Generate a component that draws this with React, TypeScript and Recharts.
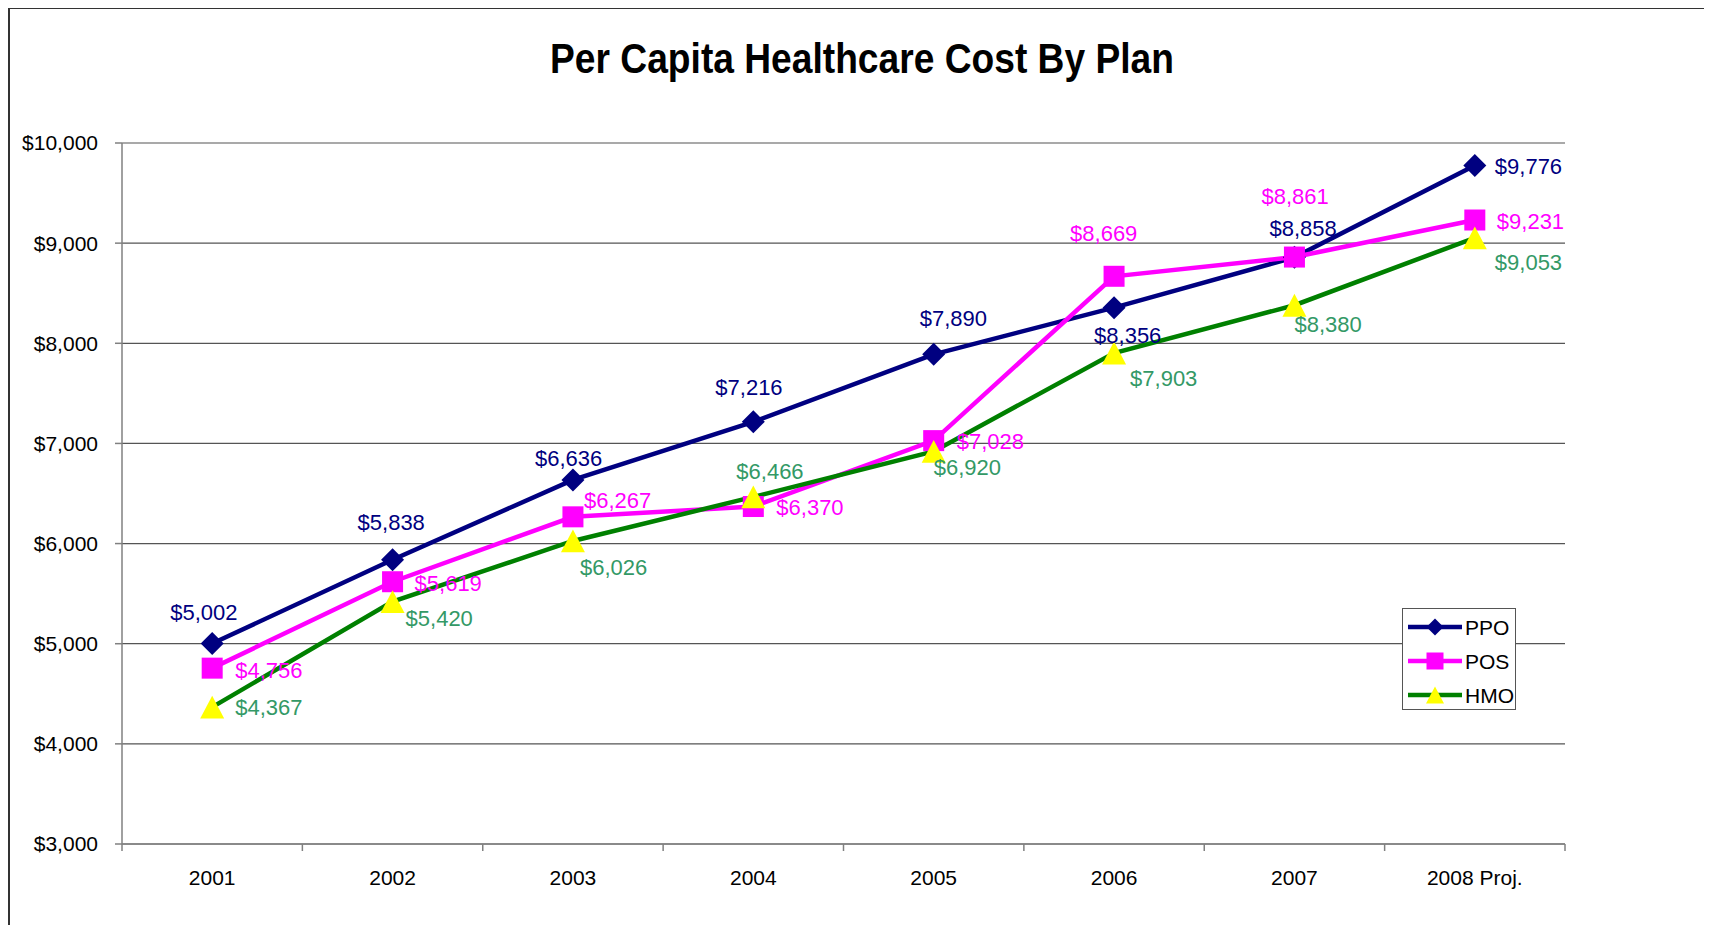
import { LineChart, Line, XAxis, YAxis, CartesianGrid, Legend, LabelList } from "recharts";

const YEARS = ["2001", "2002", "2003", "2004", "2005", "2006", "2007", "2008 Proj."];
const PPO = [5002, 5838, 6636, 7216, 7890, 8356, 8858, 9776];
const POS = [4756, 5619, 6267, 6370, 7028, 8669, 8861, 9231];
const HMO = [4367, 5420, 6026, 6466, 6920, 7903, 8380, 9053];
const Y_TICKS = [3000, 4000, 5000, 6000, 7000, 8000, 9000, 10000];

// label placement next to each point (start of text, vertical centre)
const PPO_LABEL_POS = [[-42, -31], [-35, -37], [-38, -21], [-38, -34], [-14, -36], [-20, 28], [-25, -29], [20, 1]];
const POS_LABEL_POS = [[23, 2], [22, 2], [11, -16], [23, 1], [23, 1], [-44, -43], [-33, -61], [22, 1]];
const HMO_LABEL_POS = [[23, 0], [13, 17], [7, 27], [-17, -25], [0, 16], [16, 26], [0, 19], [20, 25]];

const FONT = '"Liberation Sans", Arial, sans-serif';
const NAVY = "#000080";
const MAGENTA = "#FF00FF";
const GREEN = "#008000";
const YELLOW = "#FFFF00";
const HMO_TEXT = "#339966";
const AXIS = "#808080";

const CHART_W = 1704;
const CHART_H = 917;
const MARGIN = { top: 135, right: 147, bottom: 41, left: 14 };
const Y_AXIS_W = 100;
const PLOT_W = CHART_W - MARGIN.left - MARGIN.right - Y_AXIS_W;
const HALF_BAND = PLOT_W / YEARS.length / 2;

const data = YEARS.map((year, i) => ({ year, ppo: PPO[i], pos: POS[i], hmo: HMO[i] }));

const money = (v: number) => "$" + v.toLocaleString("en-US");

function Diamond({ cx, cy, r = 11.5 }: any) {
  return <polygon points={`${cx},${cy - r} ${cx + r},${cy} ${cx},${cy + r} ${cx - r},${cy}`} fill={NAVY} />;
}
function Square({ cx, cy, r = 10.5 }: any) {
  return <rect x={cx - r} y={cy - r} width={r * 2} height={r * 2} fill={MAGENTA} />;
}
function Triangle({ cx, cy, r = 12 }: any) {
  const h = r * 0.95;
  return <polygon points={`${cx},${cy - h} ${cx + r},${cy + h} ${cx - r},${cy + h}`} fill={YELLOW} />;
}

const dotOf = (Shape: any) => (p: any) => <Shape key={`d${p.index}`} cx={p.cx} cy={p.cy} />;

const labelOf = (pos: number[][], color: string) => (p: any) => {
  const [dx, dy] = pos[p.index] ?? [0, 0];
  return (
    <text
      key={`l${p.index}`}
      x={p.x + dx}
      y={p.y + dy}
      fill={color}
      fontSize={22}
      fontFamily={FONT}
      dominantBaseline="central"
    >
      {money(p.value)}
    </text>
  );
};

function XTick(props: any) {
  const { x, y, payload, index } = props;
  return (
    <g>
      <line x1={x - HALF_BAND} y1={y - 7} x2={x - HALF_BAND} y2={y} stroke={AXIS} strokeWidth={1.5} />
      {index === YEARS.length - 1 && (
        <line x1={x + HALF_BAND} y1={y - 7} x2={x + HALF_BAND} y2={y} stroke={AXIS} strokeWidth={1.5} />
      )}
      <text x={x} y={y + 26} textAnchor="middle" dominantBaseline="central" fontSize={21} fontFamily={FONT} fill="#000">
        {payload.value}
      </text>
    </g>
  );
}

const LEGEND_ITEMS = [
  { name: "PPO", color: NAVY, Shape: Diamond },
  { name: "POS", color: MAGENTA, Shape: Square },
  { name: "HMO", color: GREEN, Shape: Triangle },
];

function LegendBox() {
  return (
    <div
      style={{
        border: "1.5px solid #555",
        background: "#fff",
        width: 114,
        height: 102,
        boxSizing: "border-box",
        paddingTop: 1,
      }}
    >
      {LEGEND_ITEMS.map(({ name, color, Shape }) => (
        <div key={name} style={{ display: "flex", alignItems: "center", height: 34 }}>
          <svg width={62} height={34} style={{ flex: "none" }}>
            <line x1={5} y1={17} x2={59} y2={17} stroke={color} strokeWidth={4.5} />
            <Shape cx={32} cy={17} r={name === "HMO" ? 9 : 8.5} />
          </svg>
          <span style={{ fontFamily: FONT, fontSize: 21, color: "#000", lineHeight: 1 }}>{name}</span>
        </div>
      ))}
    </div>
  );
}

export default function App() {
  return (
    <div style={{ position: "relative", width: CHART_W, height: CHART_H, overflow: "hidden" }}>
      <div
        style={{
          position: "absolute",
          left: 0,
          top: -1,
          width: 1800,
          height: 1000,
          border: "2px solid #333",
        }}
      />
      <div
        style={{
          position: "absolute",
          left: 854,
          top: 51,
          transform: "translate(-50%, -50%) scaleX(0.885)",
          fontFamily: FONT,
          fontWeight: 700,
          fontSize: 42,
          lineHeight: 1,
          whiteSpace: "nowrap",
          color: "#000",
        }}
      >
        Per Capita Healthcare Cost By Plan
      </div>
      <div style={{ position: "absolute", left: 0, top: 0 }}>
        <LineChart width={CHART_W} height={CHART_H} data={data} margin={MARGIN}>
          <CartesianGrid vertical={false} stroke="#555" strokeWidth={1.2} />
          <XAxis
            dataKey="year"
            interval={0}
            padding={{ left: HALF_BAND, right: HALF_BAND }}
            height={40}
            tickSize={7}
            tickMargin={0}
            tickLine={false}
            axisLine={{ stroke: AXIS, strokeWidth: 1.5 }}
            tick={<XTick />}
          />
          <YAxis
            width={Y_AXIS_W}
            domain={[3000, 10000]}
            ticks={Y_TICKS}
            interval={0}
            tickFormatter={money}
            tickSize={7}
            tickMargin={17}
            axisLine={{ stroke: AXIS, strokeWidth: 1.5 }}
            tickLine={{ stroke: AXIS, strokeWidth: 1.5 }}
            tick={{ fontSize: 21, fill: "#000", fontFamily: FONT }}
          />
          <Legend
            layout="vertical"
            align="center"
            verticalAlign="middle"
            content={() => <LegendBox />}
            wrapperStyle={{ left: 1394, top: 600, width: 114, height: 102 }}
          />
          <Line
            dataKey="ppo"
            name="PPO"
            stroke={NAVY}
            strokeWidth={4.5}
            dot={dotOf(Diamond)}
            activeDot={false}
            isAnimationActive={false}
          >
            <LabelList dataKey="ppo" content={labelOf(PPO_LABEL_POS, NAVY)} />
          </Line>
          <Line
            dataKey="pos"
            name="POS"
            stroke={MAGENTA}
            strokeWidth={4.5}
            dot={dotOf(Square)}
            activeDot={false}
            isAnimationActive={false}
          >
            <LabelList dataKey="pos" content={labelOf(POS_LABEL_POS, MAGENTA)} />
          </Line>
          <Line
            dataKey="hmo"
            name="HMO"
            stroke={GREEN}
            strokeWidth={4.5}
            dot={dotOf(Triangle)}
            activeDot={false}
            isAnimationActive={false}
          >
            <LabelList dataKey="hmo" content={labelOf(HMO_LABEL_POS, HMO_TEXT)} />
          </Line>
        </LineChart>
      </div>
    </div>
  );
}
